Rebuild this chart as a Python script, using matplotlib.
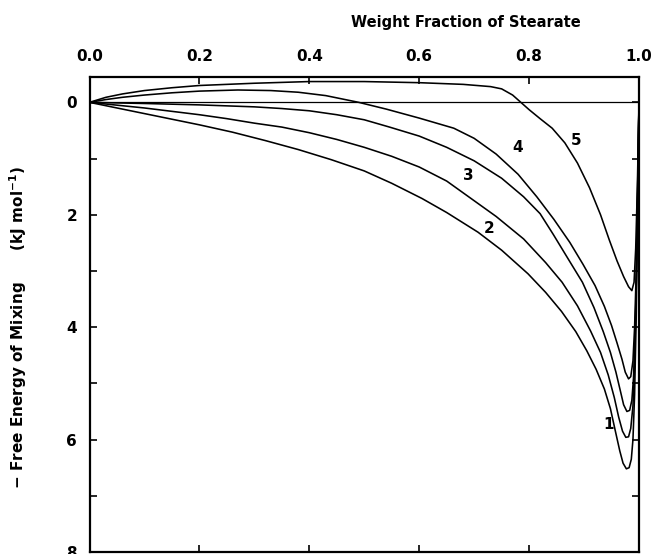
import matplotlib
matplotlib.use("Agg")
import matplotlib.pyplot as plt

plt.rcParams['font.family'] = ['DejaVu Sans']
plt.rcParams['font.weight'] = 'bold'
plt.rcParams['mathtext.fontset'] = 'custom'
plt.rcParams['mathtext.bf'] = 'DejaVu Sans:bold'
plt.rcParams['mathtext.rm'] = 'DejaVu Sans:bold'
plt.rcParams['mathtext.default'] = 'bf'

# Curve data (x = weight fraction of stearate, y = -free energy of mixing, kJ/mol)
x1 = [0.0, 0.03, 0.06, 0.1, 0.15, 0.2, 0.26, 0.32, 0.38, 0.44, 0.5, 0.55, 0.605, 0.65, 0.707, 0.75, 0.798, 0.83, 0.859, 0.885, 0.905, 0.922, 0.937, 0.948, 0.957, 0.965, 0.971, 0.977, 0.982, 0.986, 0.989, 0.992, 0.995, 0.997, 1.0]
y1 = [0.0, 0.06, 0.12, 0.2, 0.3, 0.4, 0.53, 0.68, 0.84, 1.02, 1.22, 1.44, 1.71, 1.96, 2.31, 2.63, 3.05, 3.38, 3.72, 4.08, 4.42, 4.75, 5.1, 5.45, 5.85, 6.2, 6.42, 6.52, 6.5, 6.35, 6.0, 5.2, 3.8, 2.2, 0.0]

x2 = [0.0, 0.05, 0.1, 0.15, 0.2, 0.25, 0.3, 0.35, 0.4, 0.45, 0.5, 0.55, 0.6, 0.65, 0.69, 0.74, 0.79, 0.83, 0.86, 0.888, 0.912, 0.93, 0.944, 0.955, 0.963, 0.97, 0.976, 0.981, 0.985, 0.989, 0.992, 0.995, 0.997, 1.0]
y2 = [0.0, 0.05, 0.1, 0.16, 0.22, 0.29, 0.37, 0.44, 0.54, 0.66, 0.8, 0.96, 1.15, 1.4, 1.68, 2.03, 2.43, 2.85, 3.2, 3.62, 4.07, 4.45, 4.85, 5.25, 5.6, 5.85, 5.96, 5.95, 5.8, 5.4, 4.6, 3.3, 1.9, 0.0]

x3 = [0.0, 0.1, 0.2, 0.3, 0.35, 0.4, 0.45, 0.5, 0.546, 0.6, 0.65, 0.7, 0.75, 0.79, 0.82, 0.844, 0.872, 0.897, 0.918, 0.935, 0.948, 0.958, 0.966, 0.972, 0.978, 0.983, 0.987, 0.99, 0.993, 0.996, 0.998, 1.0]
y3 = [0.0, 0.02, 0.045, 0.08, 0.11, 0.15, 0.22, 0.31, 0.44, 0.6, 0.8, 1.04, 1.35, 1.68, 1.98, 2.35, 2.8, 3.2, 3.65, 4.08, 4.45, 4.8, 5.13, 5.38, 5.5, 5.48, 5.3, 4.9, 4.1, 2.8, 1.5, 0.0]

x4 = [0.0, 0.03, 0.06, 0.1, 0.15, 0.2, 0.27, 0.33, 0.38, 0.43, 0.49, 0.54, 0.6, 0.663, 0.7, 0.74, 0.78, 0.814, 0.845, 0.874, 0.898, 0.92, 0.937, 0.95, 0.96, 0.969, 0.975, 0.981, 0.985, 0.989, 0.992, 0.995, 0.997, 1.0]
y4 = [0.0, -0.05, -0.09, -0.13, -0.17, -0.2, -0.22, -0.21, -0.18, -0.12, 0.0, 0.12, 0.28, 0.46, 0.64, 0.92, 1.28, 1.68, 2.08, 2.49, 2.88, 3.26, 3.63, 3.97, 4.28, 4.57, 4.8, 4.92, 4.88, 4.6, 4.0, 3.0, 1.8, 0.0]

x5 = [0.0, 0.03, 0.06, 0.1, 0.15, 0.2, 0.3, 0.4, 0.5, 0.6, 0.68, 0.73, 0.75, 0.77, 0.785, 0.8, 0.82, 0.842, 0.865, 0.888, 0.91, 0.93, 0.946, 0.96, 0.972, 0.981, 0.987, 0.991, 0.994, 0.997, 1.0]
y5 = [0.0, -0.09, -0.15, -0.21, -0.26, -0.3, -0.34, -0.37, -0.37, -0.35, -0.32, -0.28, -0.24, -0.13, 0.0, 0.13, 0.29, 0.46, 0.72, 1.08, 1.52, 2.0, 2.45, 2.82, 3.1, 3.28, 3.35, 3.2, 2.6, 1.5, 0.0]

curves = [(x1, y1), (x2, y2), (x3, y3), (x4, y4), (x5, y5)]

labels = ["1", "2", "3", "4", "5"]
label_x = [0.945, 0.727, 0.69, 0.78, 0.886]
label_y = [5.73, 2.25, 1.3, 0.8, 0.68]

xticks = [0.0, 0.2, 0.4, 0.6, 0.8, 1.0]
xticklabels = ["0.0", "0.2", "0.4", "0.6", "0.8", "1.0"]
yticks = [0, 2, 4, 6, 8]
yticklabels = ["0", "2", "4", "6", "8"]
yminor = [1, 3, 5, 7]

fig = plt.figure(figsize=(6.53, 5.54), dpi=100)
W, H = 653, 554
left, right, top, bottom = 89.5, 639.0, 76.5, 552.0
ax = fig.add_axes([left / W, 1 - bottom / H, (right - left) / W, (bottom - top) / H])

for xs, ys in curves:
    ax.plot(xs, ys, color='black', lw=1.15, solid_joinstyle='round', solid_capstyle='round')
ax.axhline(0, color='black', lw=0.9)

for t, lx, ly in zip(labels, label_x, label_y):
    ax.text(lx, ly, t, fontsize=11, fontweight='bold', ha='center', va='center')

ax.set_xlim(0, 1.0)
ax.set_ylim(8, -0.46)
ax.xaxis.tick_top()
ax.set_xticks(xticks)
ax.set_xticklabels(xticklabels)
ax.set_yticks(yticks)
ax.set_yticklabels(yticklabels)
ax.set_yticks(yminor, minor=True)
ax.tick_params(axis='both', which='both', direction='in', length=5, width=1.2,
               top=True, bottom=True, left=True, right=True, labelsize=11)
ax.tick_params(axis='x', pad=9)
ax.tick_params(axis='y', pad=9)
for lab in ax.get_xticklabels() + ax.get_yticklabels():
    lab.set_fontweight('bold')
for s in ax.spines.values():
    s.set_linewidth(1.6)

ax.set_ylabel(r"$-$ Free Energy of Mixing      (kJ mol$^{-1}$)", fontsize=11, fontweight='bold')
ax.yaxis.set_label_coords((29 - left) / (right - left), (bottom - 327) / (bottom - top))

fig.text(466 / W, 1 - 22 / H, "Weight Fraction of Stearate", fontsize=10.5, fontweight='bold',
         ha='center', va='center')

fig.savefig("out.png", dpi=100)
